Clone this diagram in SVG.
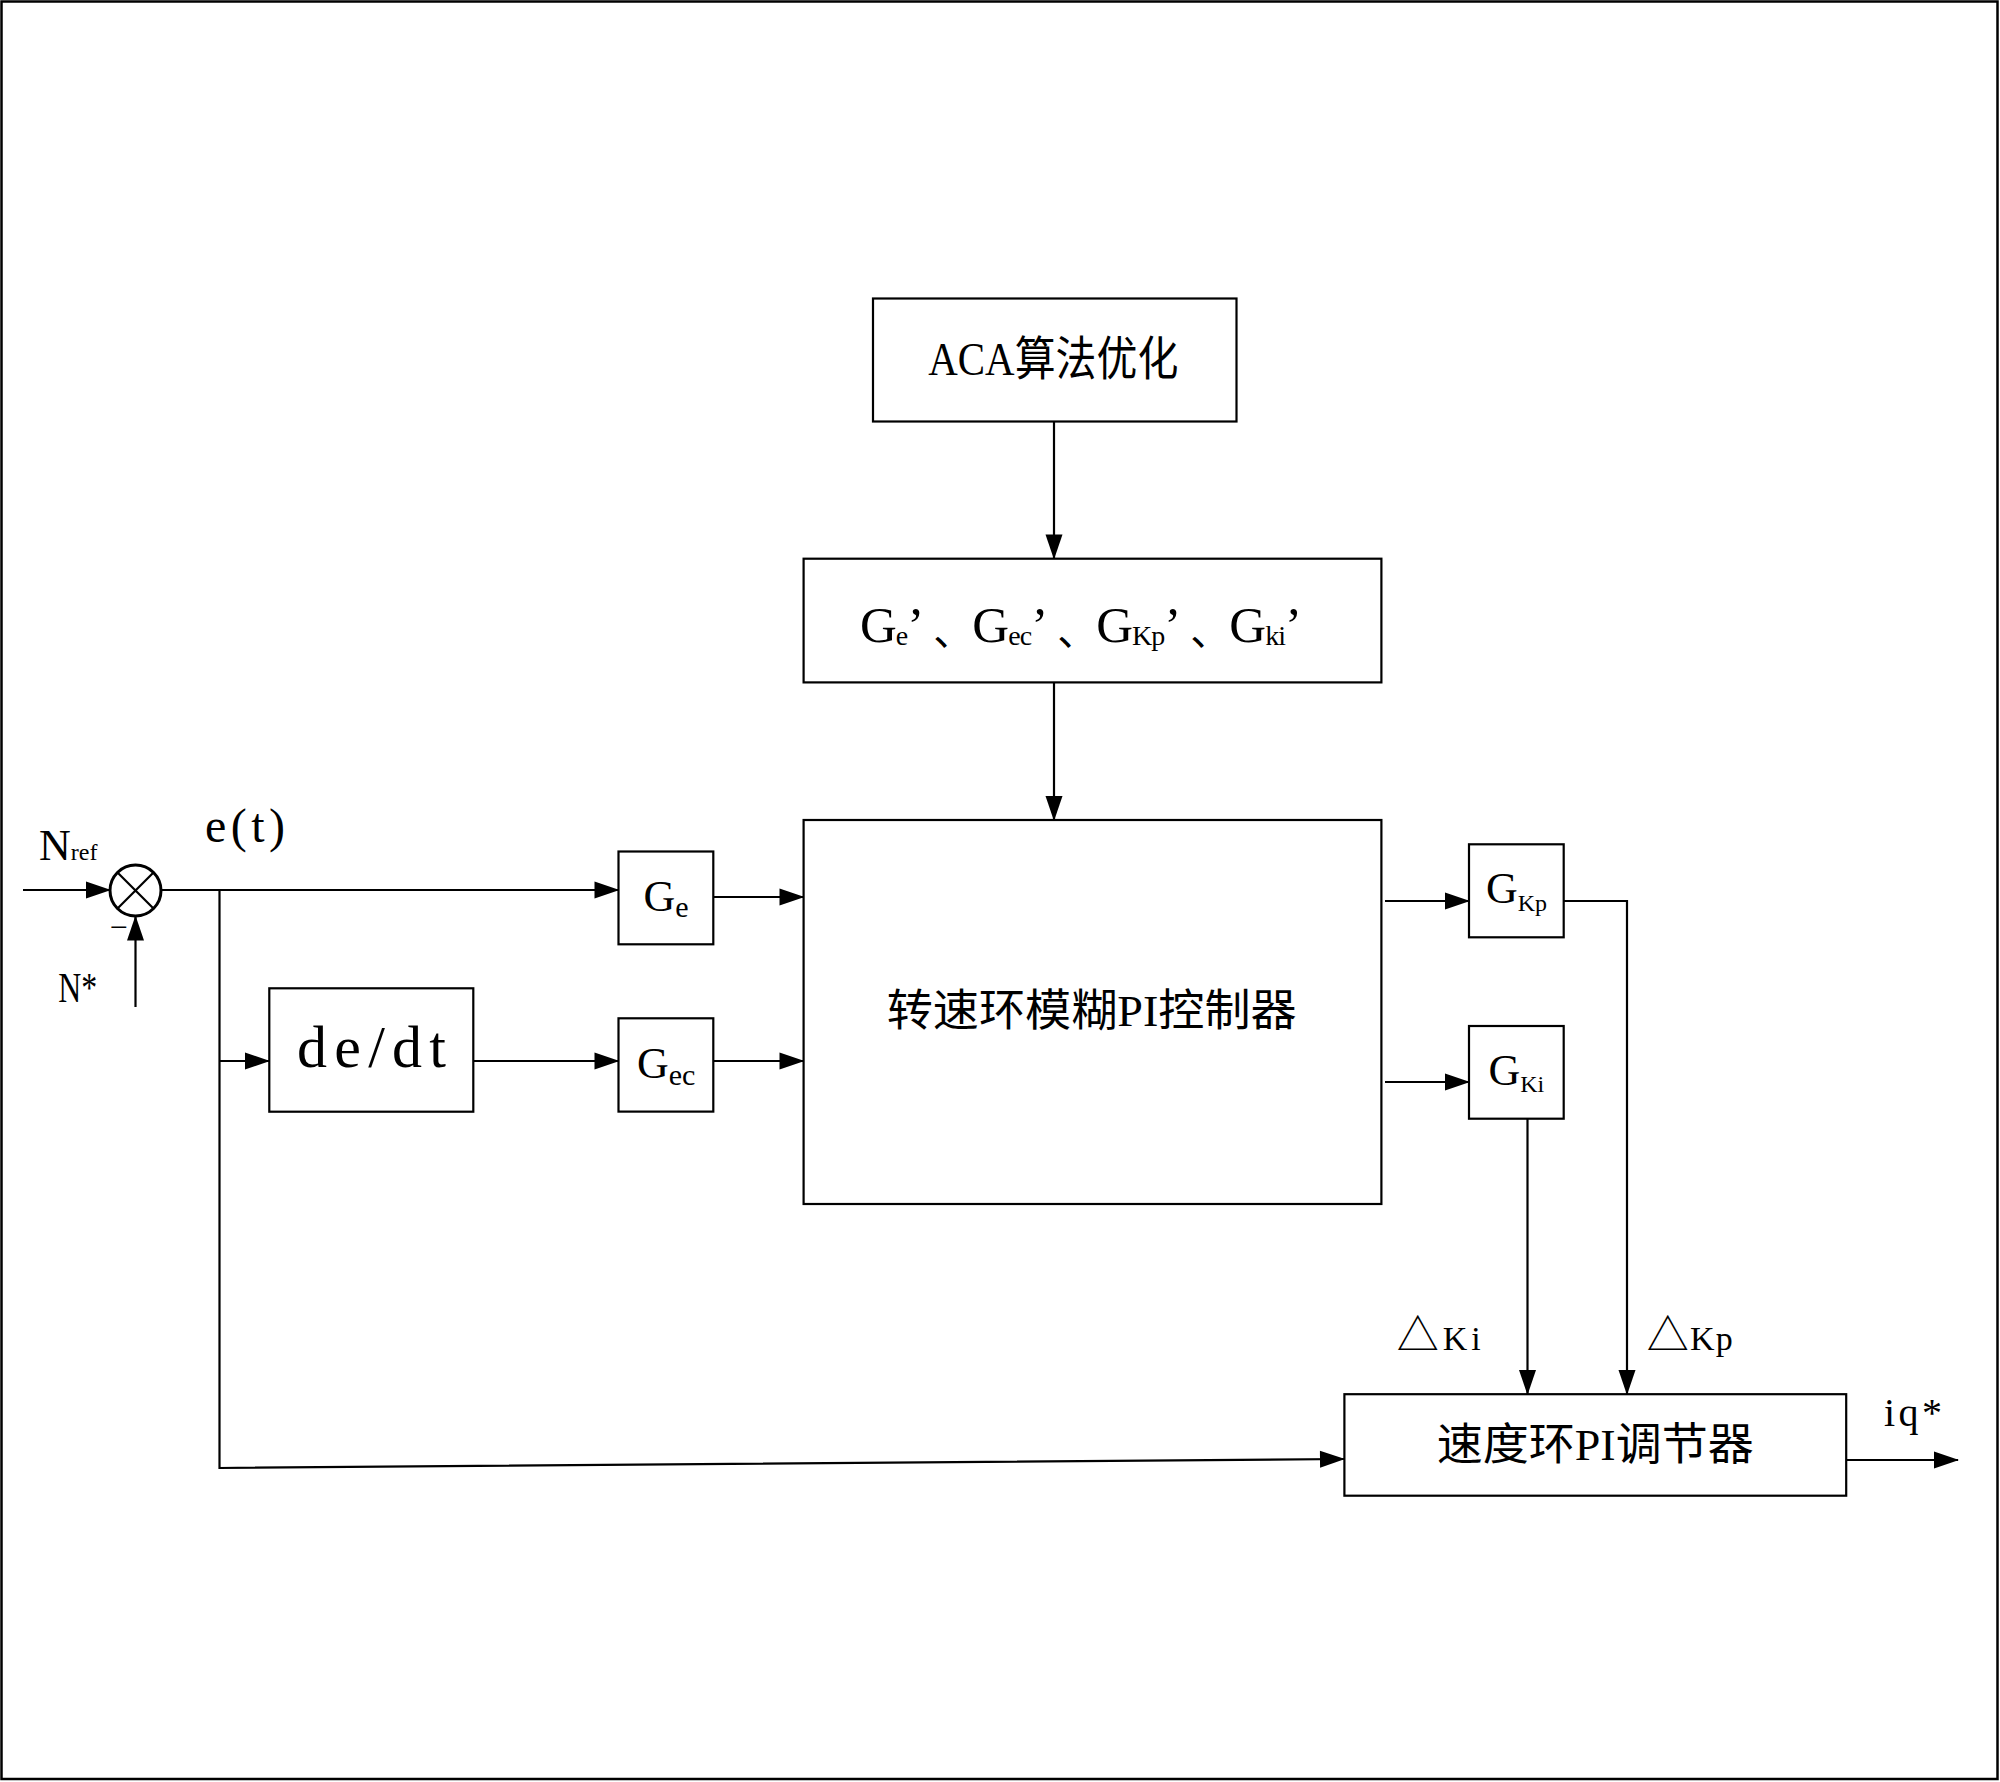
<svg xmlns="http://www.w3.org/2000/svg" width="2000" height="1782" viewBox="0 0 2000 1782">
<style>
.box{fill:#fff;stroke:#000;stroke-width:2.2}
.ln{fill:none;stroke:#000;stroke-width:2.2}
.t{font-family:'Liberation Serif','Noto Sans CJK SC',serif;fill:#000}
.cjk{font-family:'Noto Sans CJK SC','Liberation Serif',sans-serif}
</style>
<defs>
<marker id="ah" markerUnits="userSpaceOnUse" markerWidth="25" markerHeight="17" viewBox="0 0 25 17" refX="24" refY="8.5" orient="auto" overflow="visible">
<path d="M0,0 L25,8.5 L0,17 z" fill="#000"/>
</marker>
</defs>
<rect x="0" y="0" width="2000" height="1782" fill="#fff"/>
<rect x="1.5" y="1.5" width="1996" height="1777.5" fill="none" stroke="#000" stroke-width="2.5"/>

<g id="connectors">
<path class="ln" d="M23,890 H110" marker-end="url(#ah)"/>
<path class="ln" d="M135.5,1007 V916.5" marker-end="url(#ah)"/>
<path class="ln" d="M161,890 H618.5" marker-end="url(#ah)"/>
<path class="ln" d="M219.5,890 V1468 L1344,1459" marker-end="url(#ah)"/>
<path class="ln" d="M219.5,1061 H269" marker-end="url(#ah)"/>
<path class="ln" d="M473.5,1061 H618.5" marker-end="url(#ah)"/>
<path class="ln" d="M713.5,1061 H803.5" marker-end="url(#ah)"/>
<path class="ln" d="M713.5,897 H803.5" marker-end="url(#ah)"/>
<path class="ln" d="M1054,421.5 V558.5" marker-end="url(#ah)"/>
<path class="ln" d="M1054,682.5 V820" marker-end="url(#ah)"/>
<path class="ln" d="M1385,901 H1469" marker-end="url(#ah)"/>
<path class="ln" d="M1385,1082 H1469" marker-end="url(#ah)"/>
<path class="ln" d="M1564,901 H1627 V1394" marker-end="url(#ah)"/>
<path class="ln" d="M1527.5,1118.5 V1394" marker-end="url(#ah)"/>
<path class="ln" d="M1840.5,1460 H1958" marker-end="url(#ah)"/>
</g>

<g id="sum">
<circle cx="135.5" cy="890.5" r="25.5" fill="#fff" stroke="#000" stroke-width="3"/>
<path class="ln" d="M117.5,872.5 L153.5,908.5 M153.5,872.5 L117.5,908.5"/>
<text class="t" x="110" y="937" font-size="30" textLength="18" lengthAdjust="spacingAndGlyphs">−</text>
</g>

<g id="label-nref">
<text class="t" x="39" y="860"><tspan font-size="44">N</tspan><tspan font-size="24">ref</tspan></text>
</g>
<g id="label-nstar">
<text class="t" x="58.3" y="1001.7" font-size="43" textLength="39" lengthAdjust="spacingAndGlyphs">N*</text>
</g>
<g id="label-et">
<text class="t" x="205" y="842" font-size="48" textLength="80" lengthAdjust="spacing">e(t)</text>
</g>

<g id="aca">
<rect class="box" x="873" y="298.5" width="363.5" height="123"/>
<text class="t" x="928.3" y="375" font-size="47" textLength="250" lengthAdjust="spacingAndGlyphs">ACA算法优化</text>
</g>

<g id="gains-prime">
<rect class="box" x="803.6" y="558.7" width="577.8" height="123.7"/>
<text class="t" x="860" y="642" textLength="442" lengthAdjust="spacing"><tspan font-size="51">G</tspan><tspan font-size="28" dy="3">e</tspan><tspan font-size="51" dy="-3">’</tspan><tspan class="cjk" font-size="40" dy="3" dx="10">、</tspan><tspan font-size="51" dy="-3">G</tspan><tspan font-size="28" dy="3">ec</tspan><tspan font-size="51" dy="-3">’</tspan><tspan class="cjk" font-size="40" dy="3" dx="10">、</tspan><tspan font-size="51" dy="-3">G</tspan><tspan font-size="28" dy="3">Kp</tspan><tspan font-size="51" dy="-3">’</tspan><tspan class="cjk" font-size="40" dy="3" dx="10">、</tspan><tspan font-size="51" dy="-3">G</tspan><tspan font-size="28" dy="3">ki</tspan><tspan font-size="51" dy="-3">’</tspan></text>
</g>

<g id="fuzzy-pi">
<rect class="box" x="803.6" y="820" width="577.8" height="384"/>
<text class="t" x="886.7" y="1026" font-size="44" textLength="410" lengthAdjust="spacingAndGlyphs">转速环模糊PI控制器</text>
</g>

<g id="ge">
<rect class="box" x="618.5" y="851.5" width="94.8" height="92.8"/>
<text class="t" x="643.5" y="911"><tspan font-size="44">G</tspan><tspan font-size="30" dy="6">e</tspan></text>
</g>

<g id="gec">
<rect class="box" x="618.5" y="1018.3" width="94.8" height="93.3"/>
<text class="t" x="637" y="1078"><tspan font-size="44">G</tspan><tspan font-size="30" dy="6.5">ec</tspan></text>
</g>

<g id="dedt">
<rect class="box" x="269.3" y="988.3" width="204" height="123.4"/>
<text class="t" x="297" y="1067" font-size="60" textLength="149" lengthAdjust="spacing">de/dt</text>
</g>

<g id="gkp">
<rect class="box" x="1469" y="844.3" width="94.7" height="93"/>
<text class="t" x="1486" y="903.3"><tspan font-size="44">G</tspan><tspan font-size="24" dy="7.7">Kp</tspan></text>
</g>

<g id="gki">
<rect class="box" x="1469" y="1026" width="94.7" height="92.7"/>
<text class="t" x="1488.5" y="1085"><tspan font-size="44">G</tspan><tspan font-size="24" dy="6.7">Ki</tspan></text>
</g>

<g id="label-dki">
<text class="t" x="1396.7" y="1350" textLength="84" lengthAdjust="spacing"><tspan class="cjk" font-size="42">△</tspan><tspan font-size="34">Ki</tspan></text>
</g>
<g id="label-dkp">
<text class="t" x="1646.7" y="1350" textLength="86" lengthAdjust="spacing"><tspan class="cjk" font-size="42">△</tspan><tspan font-size="34">Kp</tspan></text>
</g>

<g id="speed-pi">
<rect class="box" x="1344.4" y="1394.2" width="501.8" height="101.5"/>
<text class="t" x="1436.7" y="1460" font-size="44" textLength="317" lengthAdjust="spacingAndGlyphs">速度环PI调节器</text>
</g>

<g id="label-iq">
<text class="t" x="1884" y="1426" font-size="40" textLength="58" lengthAdjust="spacing">iq*</text>
</g>
</svg>
